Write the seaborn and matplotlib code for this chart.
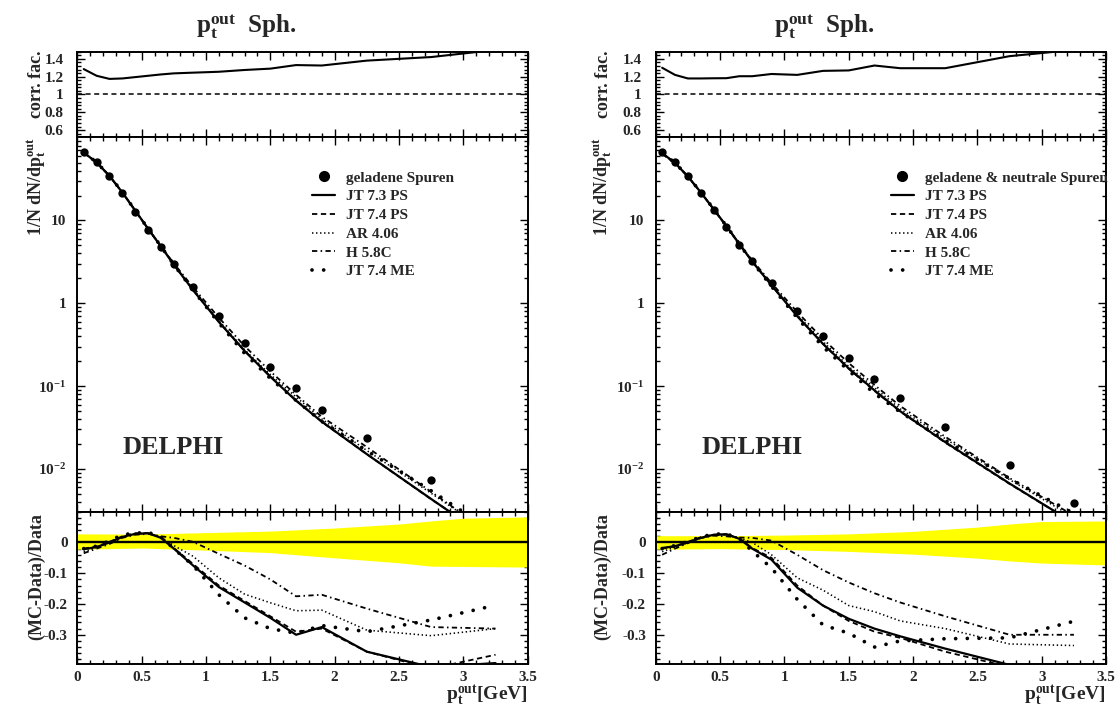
import matplotlib
matplotlib.use("Agg")
import matplotlib.pyplot as plt
from matplotlib.lines import Line2D
from matplotlib.ticker import (FixedLocator, FixedFormatter, MultipleLocator,
                               LogLocator, NullFormatter)
import seaborn as sns

# ------------------------------------------------------------------ data
# bin centres of p_t^out [GeV]
x_bins = [0.05, 0.15, 0.25, 0.35, 0.45, 0.55, 0.65, 0.75,
          0.9, 1.1, 1.3, 1.5, 1.7, 1.9, 2.25, 2.75, 3.25]

# charged tracks only
ch_dist = [67.8, 50.9, 34.6, 21.4, 12.8, 7.72, 4.79, 2.99, 1.56, 0.697,
           0.330, 0.172, 0.0953, 0.0514, 0.0234, 0.0073]
ch_corr = [1.285, 1.21, 1.175, 1.18, 1.195, 1.21, 1.225, 1.237, 1.245, 1.255,
           1.275, 1.29, 1.33, 1.325, 1.38, 1.42, 1.50]
ch_jt73 = [66.3, 50.1, 34.6, 21.8, 13.2, 7.95, 4.86, 2.93, 1.44, 0.596,
           0.266, 0.130, 0.0667, 0.0373, 0.0151, 0.00434, 0.00127]
ch_jt74 = [66.4, 50.2, 34.7, 21.8, 13.2, 7.95, 4.87, 2.94, 1.45, 0.599,
           0.267, 0.131, 0.0677, 0.0370, 0.0151, 0.00431, 0.00133]
ch_ar = [65.8, 50.1, 34.6, 21.8, 13.1, 7.95, 4.88, 2.96, 1.49, 0.617,
         0.275, 0.138, 0.0741, 0.0401, 0.0167, 0.00509, 0.00151]
ch_h = [65.4, 49.9, 34.4, 21.7, 13.1, 7.94, 4.89, 3.03, 1.56, 0.671,
        0.305, 0.151, 0.0786, 0.0427, 0.0184, 0.00529, 0.00151]
ch_me = [66.4, 50.3, 34.8, 21.9, 13.2, 7.97, 4.88, 2.93, 1.44, 0.579,
         0.249, 0.124, 0.0672, 0.0375, 0.0166, 0.00546, 0.00167]
ch_r_jt73 = [-0.022, -0.015, 0.0, 0.018, 0.028, 0.03, 0.015, -0.02, -0.075,
             -0.145, -0.195, -0.245, -0.30, -0.275, -0.355, -0.405, -0.392]
ch_r_jt74 = [-0.02, -0.013, 0.002, 0.02, 0.03, 0.03, 0.017, -0.018, -0.07,
             -0.14, -0.19, -0.24, -0.29, -0.28, -0.355, -0.41, -0.365]
ch_r_ar = [-0.03, -0.015, 0.0, 0.018, 0.027, 0.03, 0.018, -0.01, -0.045,
           -0.115, -0.168, -0.196, -0.222, -0.22, -0.285, -0.303, -0.28]
ch_r_h = [-0.035, -0.02, -0.005, 0.015, 0.025, 0.028, 0.02, 0.015, 0.002,
          -0.037, -0.075, -0.12, -0.175, -0.17, -0.215, -0.275, -0.28]
ch_r_me = [-0.02, -0.012, 0.005, 0.025, 0.03, 0.033, 0.018, -0.02, -0.075,
           -0.17, -0.245, -0.28, -0.295, -0.27, -0.29, -0.252, -0.204]

# charged and neutral tracks
cn_dist = [66.2, 50.2, 34.0, 21.6, 13.4, 8.32, 5.13, 3.26, 1.75, 0.818,
           0.408, 0.218, 0.1236, 0.0716, 0.0322, 0.0111, 0.0039]
cn_corr = [1.30, 1.22, 1.18, 1.18, 1.182, 1.183, 1.205, 1.205, 1.23, 1.22,
           1.265, 1.27, 1.325, 1.295, 1.295, 1.43, 1.50]
cn_jt73 = [65.0, 49.6, 34.0, 21.9, 13.7, 8.54, 5.19, 3.19, 1.65, 0.698,
           0.324, 0.164, 0.0890, 0.0498, 0.0211, 0.00668, 0.00222]
cn_jt74 = [64.9, 49.6, 34.1, 22.0, 13.7, 8.53, 5.20, 3.20, 1.66, 0.704,
           0.324, 0.162, 0.0878, 0.0494, 0.0208, 0.00660, 0.00222]
cn_ar = [64.2, 49.4, 34.0, 21.9, 13.7, 8.54, 5.21, 3.26, 1.68, 0.724,
         0.345, 0.173, 0.0958, 0.0533, 0.0232, 0.00744, 0.00259]
cn_h = [63.6, 49.2, 33.9, 21.9, 13.7, 8.49, 5.21, 3.31, 1.76, 0.785,
        0.371, 0.190, 0.1032, 0.0576, 0.0245, 0.00777, 0.00273]
cn_me = [64.9, 49.7, 34.1, 22.0, 13.8, 8.55, 5.19, 3.17, 1.60, 0.667,
         0.299, 0.154, 0.0816, 0.0487, 0.0221, 0.00766, 0.00290]
cn_r_jt73 = [-0.018, -0.012, 0.0, 0.015, 0.025, 0.027, 0.012, -0.02, -0.056,
             -0.147, -0.205, -0.248, -0.28, -0.305, -0.345, -0.398, -0.43]
cn_r_jt74 = [-0.02, -0.012, 0.002, 0.017, 0.025, 0.025, 0.013, -0.018, -0.05,
             -0.14, -0.205, -0.255, -0.29, -0.31, -0.355, -0.405, -0.43]
cn_r_ar = [-0.03, -0.015, 0.0, 0.016, 0.025, 0.026, 0.015, 0.0, -0.04,
           -0.115, -0.155, -0.205, -0.225, -0.255, -0.28, -0.33, -0.335]
cn_r_h = [-0.04, -0.02, -0.002, 0.014, 0.022, 0.02, 0.016, 0.015, 0.006,
          -0.04, -0.09, -0.13, -0.165, -0.195, -0.24, -0.30, -0.30]
cn_r_me = [-0.02, -0.01, 0.003, 0.018, 0.027, 0.028, 0.012, -0.028, -0.083,
           -0.185, -0.268, -0.295, -0.34, -0.32, -0.313, -0.31, -0.256]

# statistical + systematic uncertainty band of the data
band_x = [0.0, 0.5, 1.0, 1.5, 2.0, 2.5, 2.75, 3.0, 3.5]
ch_band_hi = [0.028, 0.027, 0.032, 0.037, 0.047, 0.060, 0.070, 0.079, 0.083]
ch_band_lo = [-0.022, -0.018, -0.025, -0.033, -0.050, -0.066, -0.077, -0.078, -0.080]
cn_band_hi = [0.022, 0.022, 0.024, 0.028, 0.036, 0.050, 0.060, 0.068, 0.070]
cn_band_lo = [-0.022, -0.020, -0.023, -0.029, -0.038, -0.051, -0.060, -0.067, -0.073]

model_names = ["JT 7.3 PS", "JT 7.4 PS", "AR 4.06", "H 5.8C", "JT 7.4 ME"]

# tick positions and labels
x_ticks = [0, 0.5, 1, 1.5, 2, 2.5, 3, 3.5]
x_ticklabels = ["0", "0.5", "1", "1.5", "2", "2.5", "3", "3.5"]
corr_ticks = [0.6, 0.8, 1.0, 1.2, 1.4]
corr_ticklabels = ["0.6", "0.8", "1", "1.2", "1.4"]
dist_ticks = [0.01, 0.1, 1, 10]
dist_ticklabels = [r"$10^{-2}$", r"$10^{-1}$", "1", "10"]
ratio_ticks = [-0.3, -0.2, -0.1, 0.0]
ratio_ticklabels = ["-0.3", "-0.2", "-0.1", "0"]

# ------------------------------------------------------------------ style
sns.set_theme(style="ticks")
plt.rcParams.update({
    "font.family": ["Liberation Serif", "DejaVu Serif"],
    "font.weight": "bold",
    "mathtext.fontset": "custom",
    "mathtext.rm": "Liberation Serif:bold",
    "mathtext.it": "Liberation Serif:bold",
    "mathtext.bf": "Liberation Serif:bold",
    "mathtext.default": "rm",
    "lines.scale_dashes": False,
    "axes.linewidth": 1.4,
    "axes.edgecolor": "black",
    "figure.facecolor": "white",
    "axes.facecolor": "white",
})

STYLES = {
    "JT 7.3 PS": dict(linestyle="-", lw=1.6),
    "JT 7.4 PS": dict(linestyle=(0, (3.8, 2.6)), lw=1.3),
    "AR 4.06": dict(linestyle=(0, (1.0, 1.9)), lw=1.15),
    "H 5.8C": dict(linestyle=(0, (3.8, 2.4, 1.1, 2.4)), lw=1.3),
    "JT 7.4 ME": dict(linestyle=(0, (0.01, 8.4)), lw=2.7,
                      dash_capstyle="round"),
}

W, H = 1119, 708
fig = plt.figure(figsize=(W / 100, H / 100), dpi=100)


def frac_x(px):
    return px / W


def frac_y(px):
    return 1 - px / H


def style_ticks(ax, pad):
    ax.tick_params(which="both", direction="in", top=True, right=True,
                   bottom=True, left=True, color="black", width=1.0,
                   labelsize=11, pad=pad)
    ax.tick_params(which="major", length=6)
    ax.tick_params(which="minor", length=3)
    ax.xaxis.set_major_locator(FixedLocator(x_ticks))
    ax.xaxis.set_minor_locator(MultipleLocator(0.1))
    ax.set_xlim(0, 3.5)
    for s in ax.spines.values():
        s.set_visible(True)
        s.set_linewidth(1.4)
    ax.set_xlabel("")
    ax.set_ylabel("")


def draw_column(left_px, dist, corr, models, ratios, band_hi, band_lo,
                data_label, ylabel_px):
    width_px = 450.4
    top_ax = fig.add_axes([frac_x(left_px), frac_y(137.3),
                           width_px / W, 85.6 / H])
    mid_ax = fig.add_axes([frac_x(left_px), frac_y(511.7),
                           width_px / W, 374.4 / H])
    bot_ax = fig.add_axes([frac_x(left_px), frac_y(664.3),
                           width_px / W, 152.6 / H])

    # correction factor
    top_ax.axhline(1.0, color="black", lw=1.1, linestyle=(0, (3.6, 2.6)))
    sns.lineplot(x=x_bins, y=corr, ax=top_ax, color="black", lw=1.5)
    top_ax.set_ylim(0.52, 1.48)
    style_ticks(top_ax, pad=10)
    top_ax.yaxis.set_major_locator(FixedLocator(corr_ticks))
    top_ax.yaxis.set_major_formatter(FixedFormatter(corr_ticklabels))
    top_ax.yaxis.set_minor_locator(MultipleLocator(0.04))
    top_ax.tick_params(labelbottom=False)

    # distribution
    mid_ax.set_yscale("log")
    for name, vals in zip(model_names, models):
        sns.lineplot(x=x_bins, y=vals, ax=mid_ax, color="black",
                     **STYLES[name])
    sns.scatterplot(x=x_bins[:len(dist)], y=dist, ax=mid_ax, color="black",
                    s=36, linewidth=0, zorder=5)
    mid_ax.set_ylim(0.00305, 101)
    style_ticks(mid_ax, pad=8)
    mid_ax.yaxis.set_major_locator(FixedLocator(dist_ticks))
    mid_ax.yaxis.set_major_formatter(FixedFormatter(dist_ticklabels))
    mid_ax.yaxis.set_minor_locator(LogLocator(base=10, subs=range(2, 10)))
    mid_ax.yaxis.set_minor_formatter(NullFormatter())
    mid_ax.tick_params(labelbottom=False)

    handles = [Line2D([], [], marker="o", linestyle="none", color="black",
                      markersize=7)]
    for name in model_names:
        handles.append(Line2D([], [], color="black", **STYLES[name]))
    mid_ax.legend(handles, [data_label] + model_names, loc="upper left",
                  bbox_to_anchor=(0.522, 0.910), frameon=False,
                  handlelength=1.5, handletextpad=0.72,
                  labelspacing=0.33, borderpad=0, borderaxespad=0,
                  prop={"family": "Liberation Serif", "weight": "bold",
                        "size": 11})
    mid_ax.text(0.101, 0.172, "DELPHI", transform=mid_ax.transAxes,
                fontsize=19, fontweight="bold", ha="left", va="center")

    # relative deviation
    bot_ax.fill_between(band_x, band_lo, band_hi, color="#ffff00", lw=0,
                        zorder=1)
    bot_ax.axhline(0.0, color="black", lw=1.7, zorder=3)
    for name, vals in zip(model_names, ratios):
        sns.lineplot(x=x_bins, y=vals, ax=bot_ax, color="black", zorder=4,
                     **STYLES[name])
    bot_ax.set_ylim(-0.396, 0.1)
    style_ticks(bot_ax, pad=7)
    bot_ax.tick_params(axis="x", pad=5)
    bot_ax.yaxis.set_major_locator(FixedLocator(ratio_ticks))
    bot_ax.yaxis.set_major_formatter(FixedFormatter(ratio_ticklabels))
    bot_ax.yaxis.set_minor_locator(MultipleLocator(0.02))
    bot_ax.xaxis.set_major_formatter(FixedFormatter(x_ticklabels))

    # titles and axis labels
    fig.text(frac_x(left_px + 0.375 * width_px), frac_y(33),
             r"$p_t^{out}$  Sph.", fontsize=18, fontweight="bold",
             ha="center", va="baseline")
    fig.text(frac_x(ylabel_px), frac_y(50), "corr. fac.", rotation=90,
             fontsize=13, fontweight="bold", ha="center", va="top")
    fig.text(frac_x(ylabel_px), frac_y(137), r"1/N dN/d$p_t^{out}$",
             rotation=90, fontsize=13, fontweight="bold", ha="center",
             va="top")
    fig.text(frac_x(ylabel_px), frac_y(513), "(MC-Data)/Data", rotation=90,
             fontsize=13, fontweight="bold", ha="center", va="top")
    fig.text(frac_x(left_px + width_px), frac_y(701), r"$p_t^{out}$[GeV]",
             fontsize=14, fontweight="bold", ha="right", va="baseline")


draw_column(77.3, ch_dist, ch_corr,
            [ch_jt73, ch_jt74, ch_ar, ch_h, ch_me],
            [ch_r_jt73, ch_r_jt74, ch_r_ar, ch_r_h, ch_r_me],
            ch_band_hi, ch_band_lo, "geladene Spuren", 37)
draw_column(655.7, cn_dist, cn_corr,
            [cn_jt73, cn_jt74, cn_ar, cn_h, cn_me],
            [cn_r_jt73, cn_r_jt74, cn_r_ar, cn_r_h, cn_r_me],
            cn_band_hi, cn_band_lo, "geladene & neutrale Spuren", 603)

fig.savefig("out.png", dpi=100)
